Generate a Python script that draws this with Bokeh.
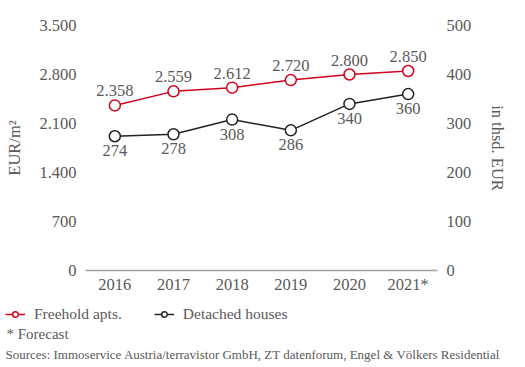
from bokeh.plotting import figure
from bokeh.models import (ColumnDataSource, FactorRange, Range1d, LinearAxis, FixedTicker,
                          Legend, LegendItem, Label, LabelSet)
from bokeh.embed import file_html
from bokeh.resources import INLINE

years = ["2016", "2017", "2018", "2019", "2020", "2021*"]
apts = [2358, 2559, 2612, 2720, 2800, 2850]
houses = [274, 278, 308, 286, 340, 360]
left_ticks = [0, 700, 1400, 2100, 2800, 3500]
right_ticks = [0, 100, 200, 300, 400, 500]
series_names = ["Freehold apts.", "Detached houses"]
note = "* Forecast"
sources = "Sources: Immoservice Austria/terravistor GmbH, ZT datenforum, Engel & Völkers Residential"

def fmt(v):
    return f"{v:,}".replace(",", ".")

FONT = "Liberation Serif"
TXT = "#595959"
RED = "#d0021b"
BLK = "#222222"
FS = "16.5px"

src = ColumnDataSource(dict(x=years, apts=apts, houses=houses,
                            apts_lbl=[fmt(v) for v in apts],
                            houses_lbl=[str(v) for v in houses]))

p = figure(x_range=FactorRange(*years), y_range=Range1d(0, left_ticks[-1]),
           frame_width=352, frame_height=245, output_backend="svg", toolbar_location=None,
           min_border_left=85, min_border_right=88, min_border_top=25, min_border_bottom=30)
p.extra_y_ranges = {"r": Range1d(0, right_ticks[-1])}
p.outline_line_color = None
p.grid.visible = False

ax = p.xaxis[0]
ax.axis_line_color = "#a0a0a0"
ax.axis_line_width = 1.5
ax.major_tick_line_color = None
ax.minor_tick_line_color = None
ax.major_tick_out = 0
ax.major_tick_in = 0
ax.major_label_text_font = FONT
ax.major_label_text_font_size = FS
ax.major_label_text_color = TXT
ax.major_label_standoff = 4

ly = p.yaxis[0]
ly.ticker = FixedTicker(ticks=left_ticks)
ly.major_label_overrides = {t: fmt(t) for t in left_ticks}
ly.axis_label = "EUR/m²"
ry = LinearAxis(y_range_name="r", ticker=FixedTicker(ticks=right_ticks), axis_label="in thsd. EUR")
p.add_layout(ry, "right")
for a in (ly, ry):
    a.axis_line_color = None
    a.major_tick_line_color = None
    a.minor_tick_line_color = None
    a.major_tick_out = 0
    a.major_tick_in = 0
    a.major_label_text_font = FONT
    a.major_label_text_font_size = FS
    a.major_label_text_color = TXT
    a.major_label_standoff = 9
    a.axis_label_text_font = FONT
    a.axis_label_text_font_size = FS
    a.axis_label_text_color = TXT
    a.axis_label_text_font_style = "normal"
ly.axis_label_standoff = 12
ry.axis_label_standoff = 14

p.line("x", "apts", source=src, color=RED, line_width=1.5)
p.scatter("x", "apts", source=src, size=11, fill_color="white", line_color=RED, line_width=1.5)
p.line("x", "houses", source=src, color=BLK, line_width=1.5, y_range_name="r")
p.scatter("x", "houses", source=src, size=11, fill_color="white", line_color=BLK, line_width=1.5,
          y_range_name="r")

p.add_layout(LabelSet(x="x", y="apts", text="apts_lbl", source=src, y_offset=9,
                      text_align="center", text_baseline="bottom", text_font=FONT,
                      text_font_size=FS, text_color=TXT))
p.add_layout(LabelSet(x="x", y="houses", text="houses_lbl", source=src, y_offset=-9, y_range_name="r",
                      text_align="center", text_baseline="top", text_font=FONT,
                      text_font_size=FS, text_color=TXT))

# footer: legend + notes (separate root, full-width frame)
H2 = 67
f = figure(width=525, height=H2, x_range=Range1d(0, 525), y_range=Range1d(H2, 0),
           output_backend="svg", toolbar_location=None, min_border=0,
           x_axis_location=None, y_axis_location=None)
f.grid.visible = False
f.outline_line_color = None
r1 = f.line(x=[-60, -50], y=[-10, -10], color=RED, line_width=1.5)
s1 = f.scatter(x=[-60], y=[-10], size=10, fill_color="white", line_color=RED, line_width=1.5)
r2 = f.line(x=[-60, -50], y=[-10, -10], color=BLK, line_width=1.5)
s2 = f.scatter(x=[-60], y=[-10], size=10, fill_color="white", line_color=BLK, line_width=1.5)
leg = Legend(items=[LegendItem(label=series_names[0], renderers=[r1, s1]),
                    LegendItem(label=series_names[1], renderers=[r2, s2])],
             orientation="horizontal", location=(5, 44),
             label_text_font=FONT, label_text_font_size="15.5px", label_text_color=TXT,
             glyph_width=20, glyph_height=14, label_standoff=9, spacing=32,
             padding=0, margin=0, border_line_color=None, background_fill_alpha=0)
f.add_layout(leg)
f.add_layout(Label(x=6, y=33, text=note, text_font=FONT, text_font_size="15px",
                   text_color=TXT, text_baseline="middle"))
f.add_layout(Label(x=5, y=54, text=sources, text_font=FONT, text_font_size="13px",
                   text_color=TXT, text_baseline="middle"))

open("out.html", "w").write(file_html((p, f), INLINE))
